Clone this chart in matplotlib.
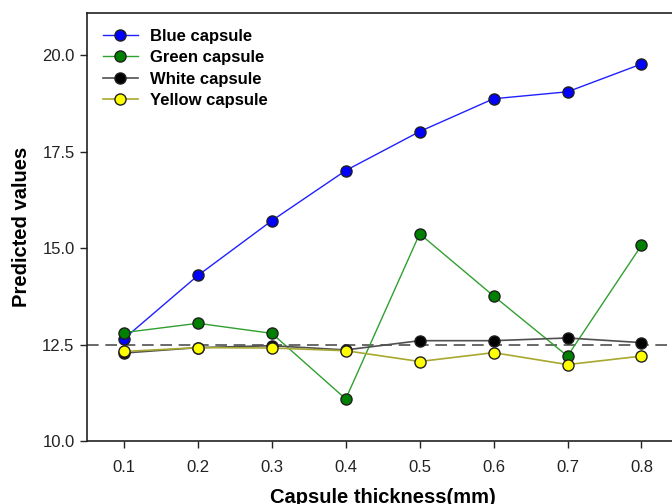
import matplotlib
matplotlib.use('Agg')
import matplotlib.pyplot as plt

plt.rcParams['font.family'] = ['Liberation Sans', 'DejaVu Sans']

thickness = [0.1, 0.2, 0.3, 0.4, 0.5, 0.6, 0.7, 0.8]
blue = [12.65, 14.29, 15.71, 17.01, 18.02, 18.87, 19.05, 19.77]
green = [12.81, 13.05, 12.79, 11.09, 15.37, 13.76, 12.20, 15.07]
white = [12.28, 12.42, 12.47, 12.36, 12.60, 12.60, 12.67, 12.55]
yellow = [12.32, 12.42, 12.41, 12.34, 12.06, 12.29, 11.98, 12.20]
reference = 12.5

fig = plt.figure(figsize=(6.72, 5.04), dpi=100)
ax = fig.add_axes([0.1295, 0.125, 0.88, 0.8498])

ms = 8
ax.plot(thickness, blue, '-o', color='#2020ff', lw=1, mfc='#0000ff', mec='#202020', ms=ms,
        label='Blue capsule', zorder=3)
ax.plot(thickness, green, '-o', color='#30a030', lw=1, mfc='#008000', mec='#202020', ms=ms,
        label='Green capsule', zorder=3)
ax.plot(thickness, white, '-o', color='#505050', lw=1.2, mfc='#000000', mec='#202020', ms=ms,
        label='White capsule', zorder=3)
ax.plot(thickness, yellow, '-o', color='#a8a830', lw=1.2, mfc='#ffff00', mec='#202020', ms=ms,
        label='Yellow capsule', zorder=3)
ax.axhline(reference, color='#505050', lw=1.2, ls=(0, (7, 4)), zorder=2)

ax.set_xlim(0.05, 0.85)
ax.set_ylim(10, 21.1)
ax.set_xticks(thickness)
ax.set_xticklabels(['%.1f' % t for t in thickness])
ax.set_yticks([10.0, 12.5, 15.0, 17.5, 20.0])
ax.set_yticklabels(['10.0', '12.5', '15.0', '17.5', '20.0'])
ax.tick_params(direction='out', length=5, width=1, labelsize=12, colors='#222222', pad=4)
ax.tick_params(axis='x', pad=9)
for s in ax.spines.values():
    s.set_linewidth(1.2)
    s.set_color('#222222')

ax.set_xlabel('Capsule thickness(mm)', fontsize=14.5, fontweight='bold', labelpad=9)
ax.set_ylabel('Predicted values', fontsize=14.5, fontweight='bold', labelpad=8)

ax.legend(loc='upper left', frameon=False, prop={'weight': 'bold', 'size': 12},
          handlelength=2.1, handletextpad=0.7, labelspacing=0.39,
          borderaxespad=0.55, bbox_to_anchor=(0.0, 1.0))

fig.savefig('out.png', dpi=100)
